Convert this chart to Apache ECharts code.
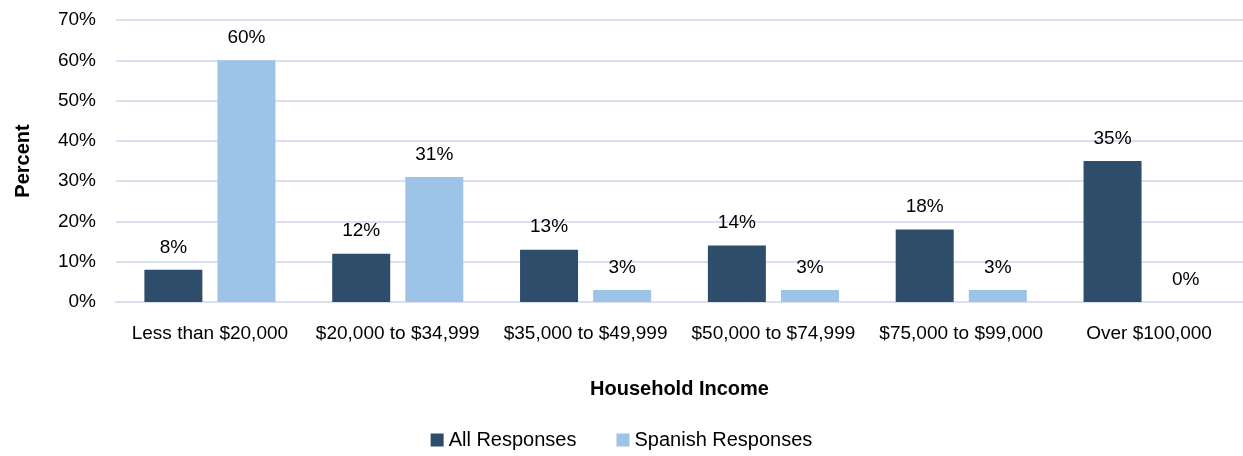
<!DOCTYPE html>
<html><head><meta charset="utf-8">
<script src="https://cdn.jsdelivr.net/npm/echarts@6/dist/echarts.min.js"></script>
<style>html,body{margin:0;padding:0;background:#fff}#c{width:1243px;height:456px}</style>
</head><body><div id="c"></div>
<script>
const categories = ["Less than $20,000","$20,000 to $34,999","$35,000 to $49,999","$50,000 to $74,999","$75,000 to $99,000","Over $100,000"];
const allResponses = [8,12,13,14,18,35];
const spanishResponses = [60,31,3,3,3,0];
const seriesNames = ["All Responses","Spanish Responses"];
const FONT = '"Liberation Sans",Arial,sans-serif';
const chart = echarts.init(document.getElementById('c'));
const lbl = {show:true, position:'top', distance:13, formatter:'{c}%', color:'#000', fontSize:19, fontFamily:FONT};
chart.setOption({
  animation:false,
  textStyle:{fontFamily:FONT},
  grid:{left:116,right:0,top:20,bottom:154},
  legend:{bottom:1,left:'center',itemWidth:13,itemHeight:13,itemGap:40,icon:'rect',
    textStyle:{fontSize:20,color:'#000',fontFamily:FONT}},
  xAxis:{type:'category',data:categories,name:'Household Income',nameLocation:'middle',nameGap:77,
    nameTextStyle:{fontSize:20,fontWeight:'bold',color:'#000',fontFamily:FONT},
    axisLine:{show:true,lineStyle:{color:'#D9E1F0',width:2}},axisTick:{show:false},
    axisLabel:{interval:0,fontSize:19,color:'#000',margin:22,fontFamily:FONT}},
  yAxis:{type:'value',min:0,max:70,interval:10,name:'Percent',nameLocation:'middle',nameGap:83,
    nameTextStyle:{fontSize:20,fontWeight:'bold',color:'#000',fontFamily:FONT},
    axisLabel:{formatter:'{value}%',fontSize:19,color:'#000',margin:20,fontFamily:FONT},
    splitLine:{lineStyle:{color:'#D9E1F0',width:2}},axisLine:{show:false},axisTick:{show:false}},
  series:[
    {name:seriesNames[0],type:'bar',data:allResponses,barWidth:58,barGap:'26%',itemStyle:{color:'#2E4D6B'},label:lbl},
    {name:seriesNames[1],type:'bar',data:spanishResponses,barWidth:58,itemStyle:{color:'#9DC3E6'},label:lbl}
  ]
});
</script></body></html>
